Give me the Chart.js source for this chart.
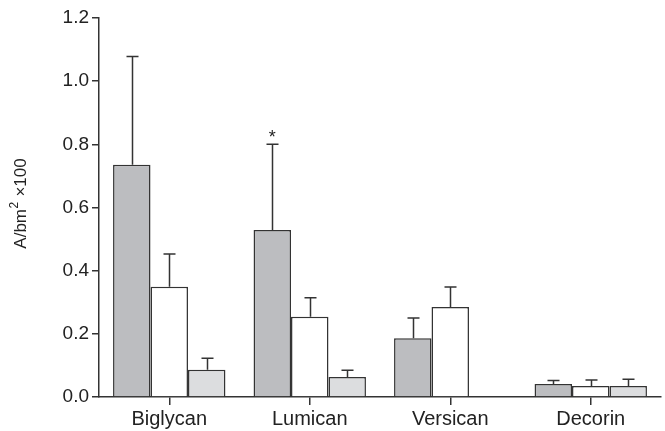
<!DOCTYPE html>
<html>
<head>
<meta charset="utf-8">
<script src="https://cdn.jsdelivr.net/npm/chart.js@4/dist/chart.umd.min.js"></script>
<style>
  html, body { margin: 0; padding: 0; background: #fff; }
  #wrap { width: 665px; height: 431px; }
</style>
</head>
<body>
<div id="wrap"><canvas id="c" width="665" height="431"></canvas></div>
<script>
const categories = ["Biglycan", "Lumican", "Versican", "Decorin"];
const yTicks = [0, 0.2, 0.4, 0.6, 0.8, 1.0, 1.2];

// three groups (dark gray / white / light gray)
const darkVals = [0.735, 0.529, 0.186, 0.041];
const whiteVals = [0.349, 0.254, 0.285, 0.035];
const lightVals = [0.086, 0.063, 0, 0.035];

// upper error bar ends
const darkErr = [1.078, 0.800, 0.250, 0.052];
const whiteErr = [0.453, 0.314, 0.348, 0.054];
const lightErr = [0.123, 0.085, null, 0.056];

// significance marks: [dataset, category]
const stars = [[0, 1]];

const errTops = [darkErr, whiteErr, lightErr];
const FAMILY = "'Liberation Sans', Arial, sans-serif";

const errorBars = {
  id: "errorBars",
  afterDatasetsDraw(chart) {
    const ctx = chart.ctx;
    const y = chart.scales.y;
    ctx.save();
    ctx.strokeStyle = "#333";
    ctx.lineWidth = 1.5;
    chart.data.datasets.forEach((ds, di) => {
      const meta = chart.getDatasetMeta(di);
      meta.data.forEach((bar, i) => {
        const top = errTops[di][i];
        if (top == null) return;
        const x = Math.round(bar.x) + 0.5;
        const yTop = y.getPixelForValue(top);
        ctx.beginPath();
        ctx.moveTo(x, bar.y);
        ctx.lineTo(x, yTop);
        ctx.moveTo(x - 6, yTop);
        ctx.lineTo(x + 6, yTop);
        ctx.stroke();
      });
    });
    ctx.fillStyle = "#222";
    ctx.font = "18px " + FAMILY;
    ctx.textAlign = "center";
    ctx.textBaseline = "alphabetic";
    stars.forEach(([di, i]) => {
      const bar = chart.getDatasetMeta(di).data[i];
      const yTop = y.getPixelForValue(errTops[di][i]);
      ctx.fillText("*", bar.x, yTop - 1);
    });

    // y axis title with superscript
    ctx.translate(21, 204);
    ctx.rotate(-Math.PI / 2);
    ctx.textAlign = "left";
    ctx.textBaseline = "middle";
    const big = "17px " + FAMILY, small = "12px " + FAMILY;
    ctx.font = big;
    const w1 = ctx.measureText("A/bm").width;
    const w3 = ctx.measureText(" ×100").width;
    ctx.font = small;
    const w2 = ctx.measureText("2").width;
    let x0 = -(w1 + w2 + w3) / 2;
    ctx.font = big;
    ctx.fillText("A/bm", x0, 0);
    ctx.font = small;
    ctx.fillText("2", x0 + w1 + 0.5, -6);
    ctx.font = big;
    ctx.fillText(" ×100", x0 + w1 + w2 + 1, 0);
    ctx.restore();
  }
};

new Chart(document.getElementById("c"), {
  type: "bar",
  data: {
    labels: categories,
    datasets: [
      { data: darkVals, backgroundColor: "#bcbdc0", borderColor: "#333", borderWidth: 1.5 },
      { data: whiteVals, backgroundColor: "#ffffff", borderColor: "#333", borderWidth: 1.5 },
      { data: lightVals, backgroundColor: "#dcdddf", borderColor: "#333", borderWidth: 1.5 }
    ]
  },
  options: {
    responsive: false,
    animation: false,
    layout: { padding: { top: 18, right: 4, left: 0, bottom: 0 } },
    plugins: { legend: { display: false }, tooltip: { enabled: false } },
    datasets: { bar: { categoryPercentage: 0.8, barPercentage: 1.0, borderSkipped: "bottom" } },
    scales: {
      x: {
        grid: { display: true, offset: false, drawOnChartArea: false, drawTicks: true, tickLength: 8, color: "#333", lineWidth: 1.5 },
        border: { color: "#333", width: 1.5 },
        ticks: { color: "#222", font: { family: FAMILY, size: 20 }, padding: 2 },
        afterFit(scale) { scale.height = 34; }
      },
      y: {
        min: 0,
        max: 1.2,
        afterBuildTicks(scale) { scale.ticks = yTicks.map(v => ({ value: v })); },
        grid: { display: true, drawOnChartArea: false, drawTicks: true, tickLength: 7, color: "#333", lineWidth: 1.5 },
        border: { color: "#333", width: 1.5 },
        ticks: { color: "#222", font: { family: FAMILY, size: 19 }, padding: 3, callback: v => v.toFixed(1) },
        afterFit(scale) { scale.width = 99; }
      }
    }
  },
  plugins: [errorBars]
});
</script>
</body>
</html>
